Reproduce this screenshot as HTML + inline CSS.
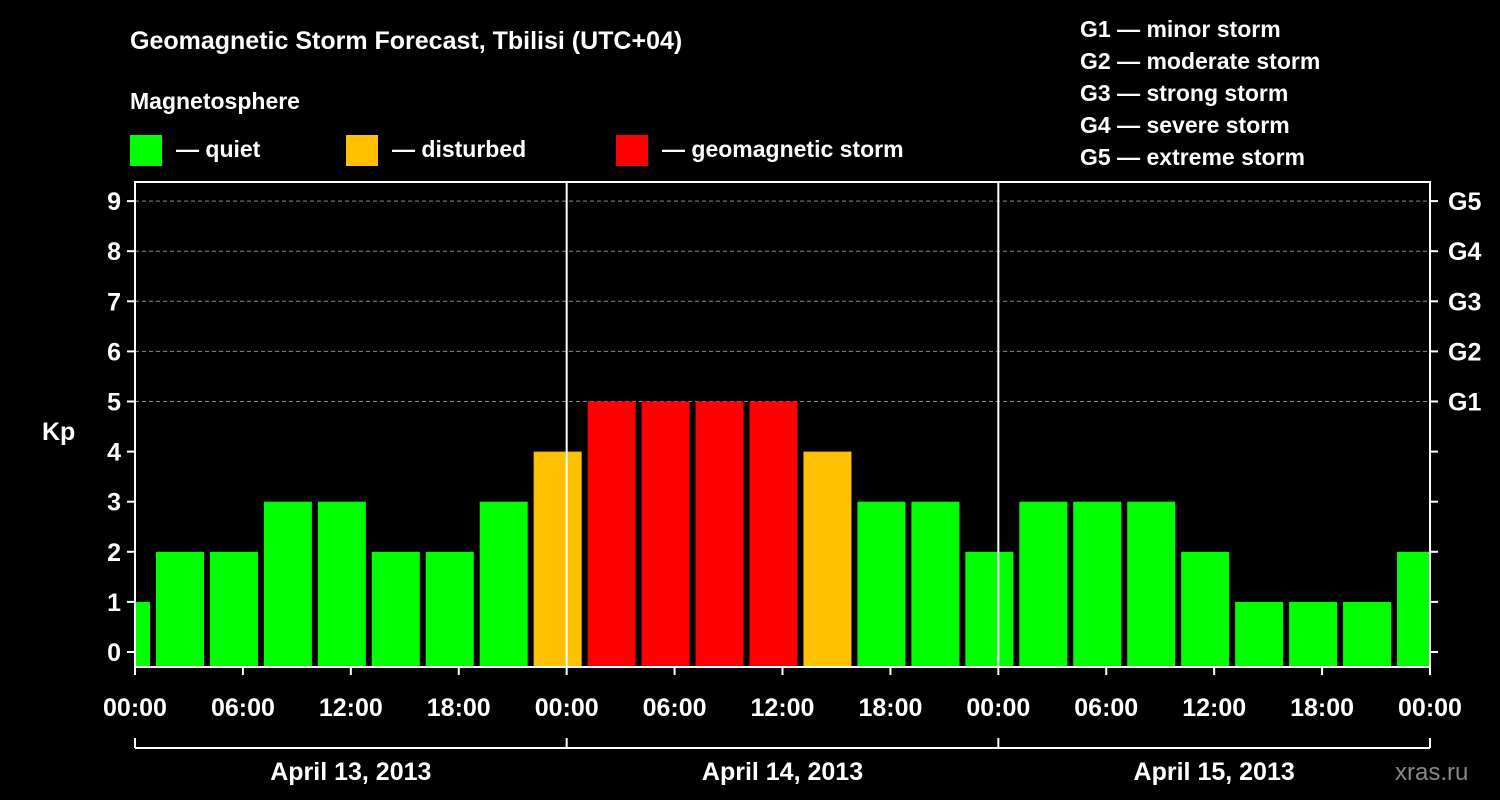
<!DOCTYPE html>
<html><head><meta charset="utf-8"><style>body{margin:0;background:#000}svg{display:block;font-family:"Liberation Sans",sans-serif;font-weight:bold}</style></head>
<body>
<svg id="c" width="1500" height="800" xmlns="http://www.w3.org/2000/svg">
<rect width="1500" height="800" fill="#000"/>
<text x="130" y="49" fill="#fff" font-size="25">Geomagnetic Storm Forecast, Tbilisi (UTC+04)</text>
<text x="130" y="109" fill="#fff" font-size="23">Magnetosphere</text>
<g><rect x="130" y="135" width="32" height="31" fill="#00ff00"/><text x="176" y="157" fill="#fff" font-size="23">— quiet</text></g>
<g><rect x="346" y="135" width="32" height="31" fill="#ffc000"/><text x="392" y="157" fill="#fff" font-size="23">— disturbed</text></g>
<g><rect x="616" y="135" width="32" height="31" fill="#ff0000"/><text x="662" y="157" fill="#fff" font-size="23">— geomagnetic storm</text></g>
<g fill="#fff" font-size="23">
<text x="1080" y="37">G1 — minor storm</text><text x="1080" y="69">G2 — moderate storm</text><text x="1080" y="101">G3 — strong storm</text><text x="1080" y="133">G4 — severe storm</text><text x="1080" y="165">G5 — extreme storm</text></g>
<text x="42" y="440" fill="#fff" font-size="25">Kp</text>
<text x="1395" y="780" fill="#888" font-size="24" font-weight="normal">xras.ru</text>
<g id="plot"></g>
</svg>
<script>
const kpValues=[1,2,2,3,3,2,2,3,4,5,5,5,5,4,3,3,2,3,3,3,2,1,1,1,2];
const yTicks=[0,1,2,3,4,5,6,7,8,9];
const gLabels=["G1","G2","G3","G4","G5"];
const xTickLabels=["00:00","06:00","12:00","18:00"];
const dayLabels=["April 13, 2013","April 14, 2013","April 15, 2013"];
const X0=135,X1=1430,Y0=652,UNIT=50.1,TOP=182,BOT=667,PXH=(X1-X0)/72;
const xs=h=>X0+h*PXH, ys=v=>Y0-v*UNIT;
const NS="http://www.w3.org/2000/svg",g=document.getElementById('plot');
function mk(t,a){const e=document.createElementNS(NS,t);for(const k in a)e.setAttribute(k,a[k]);g.appendChild(e);return e;}
// grid
yTicks.forEach(v=>{
 if(v>=5){const l=mk('line',{x1:X0,x2:X1,y1:ys(v),y2:ys(v),stroke:'#888','stroke-dasharray':'4,3'});}
 const t=mk('line',{x1:X0-8,x2:X0,y1:ys(v),y2:ys(v),stroke:'#fff','stroke-width':2});
 const t2=mk('line',{x1:X1,x2:X1+8,y1:ys(v),y2:ys(v),stroke:'#fff','stroke-width':2});
 const tx=mk('text',{x:X0-14,y:ys(v)+9,fill:'#fff','font-size':25,'text-anchor':'end'});tx.textContent=v;
});
gLabels.forEach((s,i)=>{const tx=mk('text',{x:X1+18,y:ys(5+i)+9,fill:'#fff','font-size':25});tx.textContent=s;});
// bars
kpValues.forEach((v,i)=>{
 const c=xs(2.5+3*(i-1));let a=c-24,b=c+24;a=Math.max(a,X0);b=Math.min(b,X1);
 const col=v>=5?'#ff0000':v>=4?'#ffc000':'#00ff00';
 const r=mk('rect',{x:a,y:ys(v),width:b-a,height:BOT-ys(v),fill:col});
 
});
// frame and day lines
const f=mk('rect',{x:X0,y:TOP,width:X1-X0,height:BOT-TOP,fill:'none',stroke:'#fff','stroke-width':2});
[1,2].forEach(d=>{const l=mk('line',{x1:xs(24*d),x2:xs(24*d),y1:TOP,y2:BOT,stroke:'#fff','stroke-width':2});});
// x ticks
for(let h=0;h<=72;h+=6){
 const l=mk('line',{x1:xs(h),x2:xs(h),y1:BOT,y2:BOT+8,stroke:'#fff','stroke-width':2});
 const tx=mk('text',{x:xs(h),y:716,fill:'#fff','font-size':25,'text-anchor':'middle'});tx.textContent=xTickLabels[(h/6)%4];
}
const br=mk('line',{x1:X0,x2:X1,y1:748,y2:748,stroke:'#fff','stroke-width':2});
[0,1,2,3].forEach(d=>{const l=mk('line',{x1:xs(24*d),x2:xs(24*d),y1:738,y2:748,stroke:'#fff','stroke-width':2});});
dayLabels.forEach((s,d)=>{const tx=mk('text',{x:xs(24*d+12),y:780,fill:'#fff','font-size':25,'text-anchor':'middle'});tx.textContent=s;});
</script>
</body></html>
